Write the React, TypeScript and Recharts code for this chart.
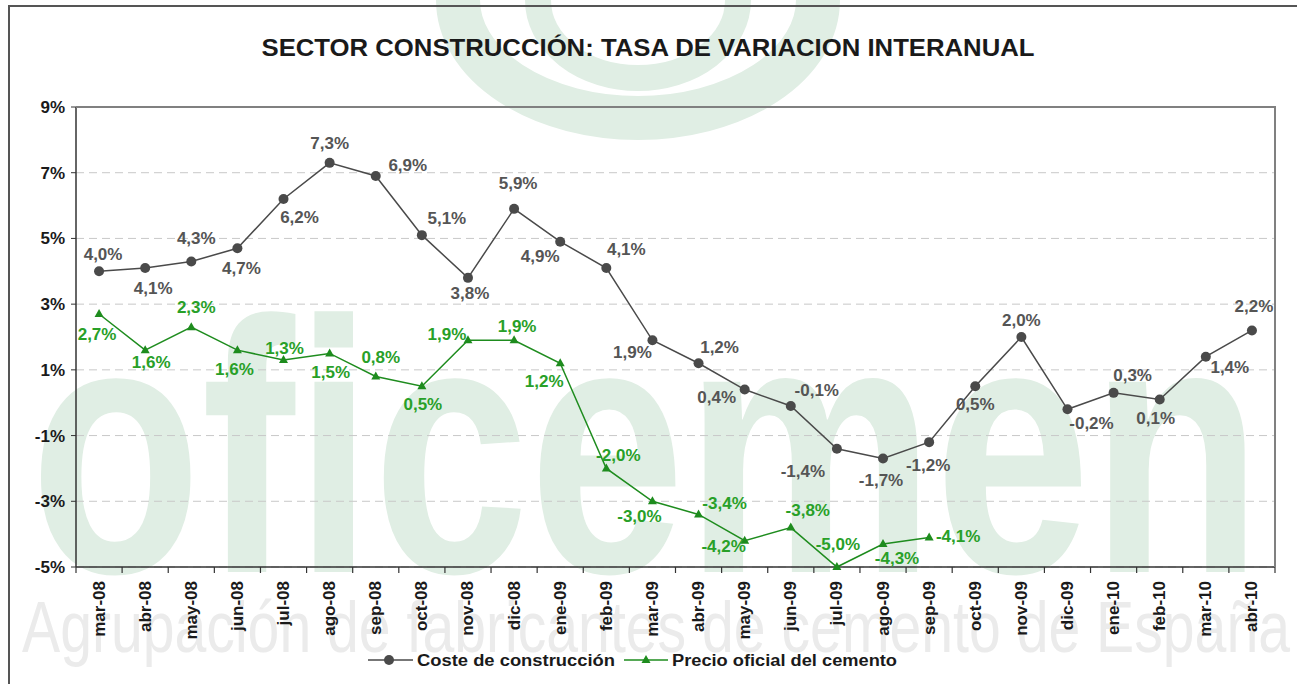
import React from 'react';
import { LineChart, Line, XAxis, YAxis, CartesianGrid, LabelList } from 'recharts';

// Monthly year-on-year rates (%)
const months = [
  'mar-08', 'abr-08', 'may-08', 'jun-08', 'jul-08', 'ago-08', 'sep-08', 'oct-08', 'nov-08',
  'dic-08', 'ene-09', 'feb-09', 'mar-09', 'abr-09', 'may-09', 'jun-09', 'jul-09', 'ago-09',
  'sep-09', 'oct-09', 'nov-09', 'dic-09', 'ene-10', 'feb-10', 'mar-10', 'abr-10',
];
const costeConstruccion = [
  4.0, 4.1, 4.3, 4.7, 6.2, 7.3, 6.9, 5.1, 3.8, 5.9, 4.9, 4.1, 1.9, 1.2, 0.4, -0.1, -1.4, -1.7,
  -1.2, 0.5, 2.0, -0.2, 0.3, 0.1, 1.4, 2.2,
];
const precioCemento = [
  2.7, 1.6, 2.3, 1.6, 1.3, 1.5, 0.8, 0.5, 1.9, 1.9, 1.2, -2.0, -3.0, -3.4, -4.2, -3.8, -5.0, -4.3,
  -4.1, null, null, null, null, null, null, null,
];
const yTicks = [-5, -3, -1, 1, 3, 5, 7, 9];

const data = months.map((month, i) => ({
  month,
  coste: costeConstruccion[i],
  cemento: precioCemento[i],
}));

// label offsets (dx, dy) from each point, as in the original
const costeLabelOffsets = [
  [4, -17], [8, 20], [5, -23], [4, 20], [16, 18], [0, -19], [32, -11], [25, -17], [2, 16],
  [4, -25], [-20, 15], [20, -19], [-20, 12], [21, -16], [-28, 8], [26, -16], [-34, 23], [-2, 22],
  [-1, 23], [0, 18], [0, -17], [24, 14], [19, -17], [-4, 19], [24, 11], [2, -24],
];
const cementoLabelOffsets = [
  [-2, 20], [6, 12], [5, -20], [-3, 19], [1, -12], [1, 19], [5, -19], [1, 18], [-21, -6],
  [3, -14], [-16, 18], [12, -13], [-13, 15], [26, -11], [-21, 6], [17, -17], [1, -23], [14, 14],
  [29, -1],
];

const FONT = '"Liberation Sans", Arial, sans-serif';
const GREY = '#4a4a4a';
const GREEN = '#1e8c1e';
const LABEL_GREEN = '#28a028';
const PLOT_LEFT = 76;
const PLOT_RIGHT = 1275;
const PLOT_TOP = 107;
const PLOT_BOTTOM = 567;
const BAND = (PLOT_RIGHT - PLOT_LEFT) / months.length;

const fmt = (v: number) => v.toFixed(1).replace('.', ',') + '%';

const makeLabel = (offsets: number[][], color: string) => (props: any) => {
  const { x, y, value, index } = props;
  if (value == null || !offsets[index]) return null;
  const [dx, dy] = offsets[index];
  return (
    <text
      x={x + dx}
      y={y + dy}
      fill={color}
      fontSize={17}
      fontWeight="bold"
      fontFamily={FONT}
      textAnchor="middle"
      dominantBaseline="central"
    >
      {fmt(value)}
    </text>
  );
};

const Triangle = (props: any) => {
  const { cx, cy, index } = props;
  if (cx == null || cy == null) return <g key={index} />;
  return <path key={index} d={`M${cx},${cy - 5}L${cx + 4.5},${cy + 3}L${cx - 4.5},${cy + 3}Z`} fill={GREEN} />;
};

const XTick = (props: any) => {
  const { x, y, payload, index } = props;
  return (
    <g>
      <line x1={x - BAND / 2} x2={x - BAND / 2} y1={y} y2={y + 6} stroke="#333" strokeWidth={1.2} />
      {index === months.length - 1 && (
        <line x1={x + BAND / 2} x2={x + BAND / 2} y1={y} y2={y + 6} stroke="#333" strokeWidth={1.2} />
      )}
      <text
        x={x}
        y={y + 14}
        transform={`rotate(-90, ${x}, ${y + 14})`}
        textAnchor="end"
        dominantBaseline="central"
        fontSize={17}
        fontWeight="bold"
        fontFamily={FONT}
        fill="#1a1a1a"
      >
        {payload.value}
      </text>
    </g>
  );
};

const Watermark = () => (
  <svg width={1297} height={684} style={{ position: 'absolute', left: 0, top: 0 }}>
    <ellipse cx={638} cy={0} rx={180} ry={118} fill="none" stroke="#e0eee4" strokeWidth={44} />
    <ellipse cx={638} cy={0} rx={100} ry={78} fill="none" stroke="#e0eee4" strokeWidth={26} />
    <text
      x={30}
      y={572}
      fontSize={360}
      fontWeight="bold"
      fontFamily={FONT}
      fill="#e0eee4"
      textLength={1232}
      lengthAdjust="spacingAndGlyphs"
    >
      oficemen
    </text>
    <text
      x={22}
      y={652}
      fontSize={72}
      fontFamily={FONT}
      fill="#ebebeb"
      textLength={1268}
      lengthAdjust="spacingAndGlyphs"
    >
      Agrupación de fabricantes de cemento de España
    </text>
  </svg>
);

const Frame = () => (
  <svg width={1297} height={684} style={{ position: 'absolute', left: 0, top: 0, pointerEvents: 'none' }}>
    <path d="M9,684 L9,6 L1297,6" fill="none" stroke="#555" strokeWidth={2} />
    <path d={`M${PLOT_LEFT},${PLOT_TOP} L${PLOT_RIGHT},${PLOT_TOP} L${PLOT_RIGHT},${PLOT_BOTTOM}`} fill="none" stroke="#808080" strokeWidth={2} />
    <text
      x={648}
      y={47}
      textAnchor="middle"
      dominantBaseline="central"
      fontSize={24}
      fontWeight="bold"
      fontFamily={FONT}
      fill="#1a1a1a"
      textLength={773}
      lengthAdjust="spacingAndGlyphs"
    >
      SECTOR CONSTRUCCIÓN: TASA DE VARIACION INTERANUAL
    </text>
    {/* legend */}
    <line x1={368} x2={413} y1={660} y2={660} stroke={GREY} strokeWidth={1.5} />
    <circle cx={389} cy={660} r={5} fill={GREY} />
    <text x={417} y={660} dominantBaseline="central" fontSize={16} fontWeight="bold" fontFamily={FONT} fill="#1a1a1a" textLength={198} lengthAdjust="spacingAndGlyphs">
      Coste de construcción
    </text>
    <line x1={624} x2={668} y1={660} y2={660} stroke={GREEN} strokeWidth={1.5} />
    <path d="M646,655 L650.5,663 L641.5,663 Z" fill={GREEN} />
    <text x={672} y={660} dominantBaseline="central" fontSize={16} fontWeight="bold" fontFamily={FONT} fill="#1a1a1a" textLength={225} lengthAdjust="spacingAndGlyphs">
      Precio oficial del cemento
    </text>
  </svg>
);

export default function App() {
  return (
    <div style={{ position: 'absolute', left: 0, top: 0, width: 1297, height: 684, overflow: 'hidden', background: '#fff' }}>
      <Watermark />
      <div style={{ position: 'absolute', left: 0, top: 0 }}>
        <LineChart width={1297} height={684} data={data} margin={{ top: PLOT_TOP, right: 1297 - PLOT_RIGHT, bottom: 57, left: 16 }}>
          <CartesianGrid vertical={false} strokeDasharray="8 5" stroke="#c8c8c8" />
          <XAxis
            dataKey="month"
            interval={0}
            height={60}
            padding={{ left: BAND / 2, right: BAND / 2 }}
            tickSize={0}
            tickMargin={0}
            tickLine={false}
            axisLine={{ stroke: '#333', strokeWidth: 1.5 }}
            tick={<XTick />}
          />
          <YAxis
            width={60}
            domain={[-5, 9]}
            ticks={yTicks}
            interval={0}
            tickSize={5}
            tickMargin={6}
            tickFormatter={(v: number) => `${v}%`}
            tick={{ fontSize: 17, fontWeight: 'bold', fill: '#1a1a1a', fontFamily: FONT }}
            axisLine={{ stroke: '#333', strokeWidth: 1.5 }}
            tickLine={{ stroke: '#333' }}
          />
          <Line
            dataKey="coste"
            stroke={GREY}
            strokeWidth={1.5}
            dot={{ r: 5, fill: GREY, stroke: GREY, strokeWidth: 0 }}
            isAnimationActive={false}
          >
            <LabelList dataKey="coste" content={makeLabel(costeLabelOffsets, '#555')} />
          </Line>
          <Line
            dataKey="cemento"
            stroke={GREEN}
            strokeWidth={1.5}
            dot={<Triangle />}
            connectNulls={false}
            isAnimationActive={false}
          >
            <LabelList dataKey="cemento" content={makeLabel(cementoLabelOffsets, LABEL_GREEN)} />
          </Line>
        </LineChart>
      </div>
      <Frame />
    </div>
  );
}
